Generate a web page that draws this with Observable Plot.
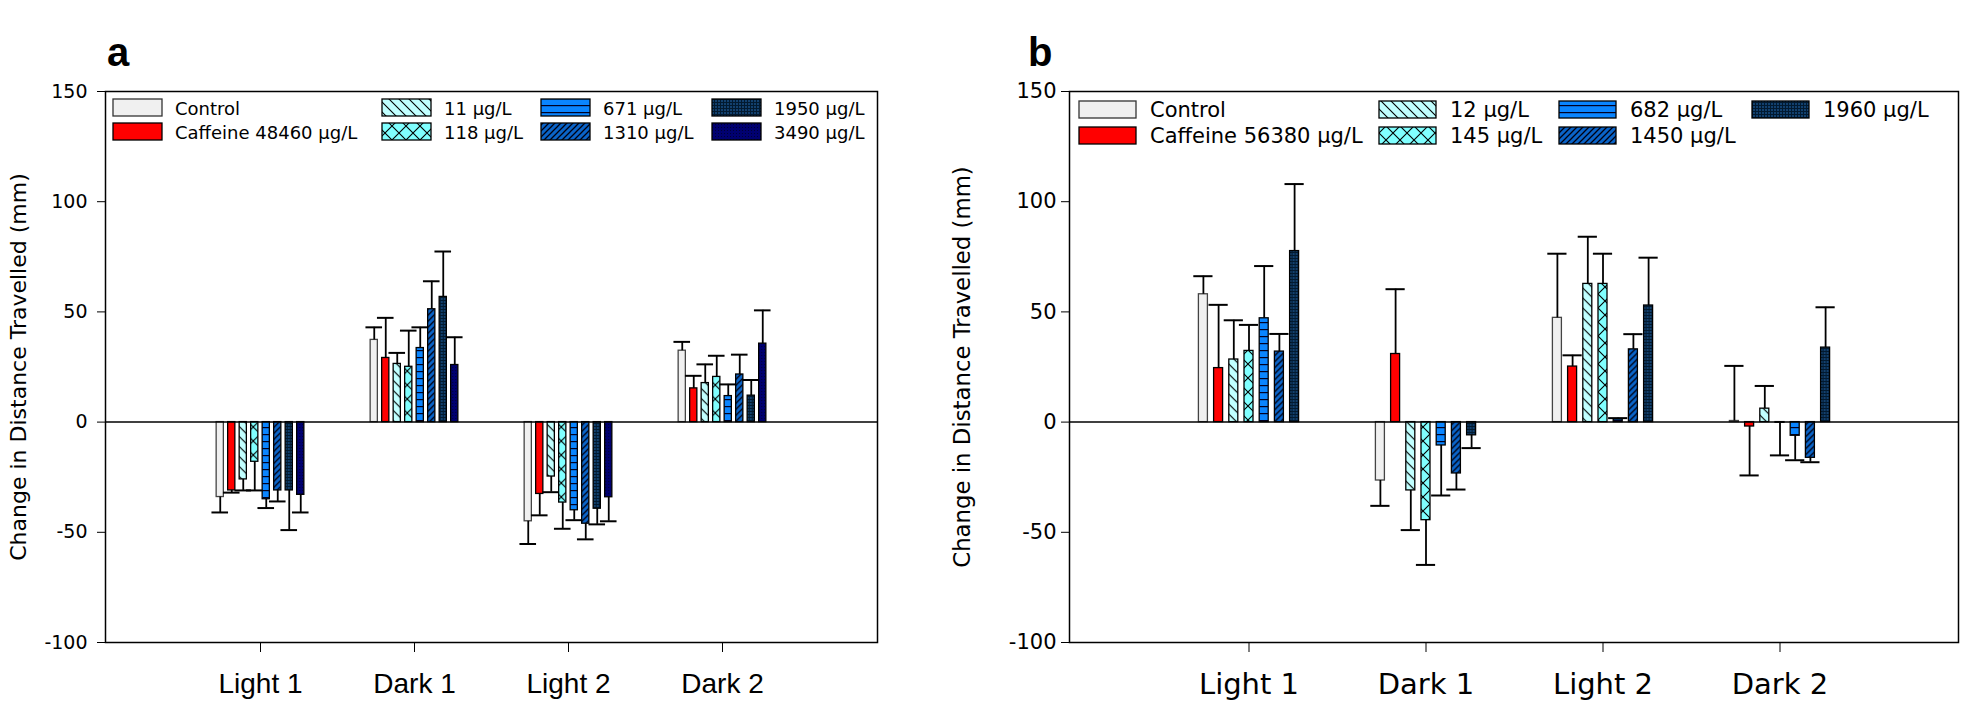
<!DOCTYPE html>
<html><head><meta charset="utf-8">
<script src="https://cdn.jsdelivr.net/npm/d3@7"></script>
<script src="https://cdn.jsdelivr.net/npm/@observablehq/plot@0.6"></script>
<style>
html,body{margin:0;padding:0;background:#fff;}
#wrap{position:relative;width:1961px;height:707px;overflow:hidden;background:#fff;}
#wrap > svg{position:absolute;top:0;}
.pa [aria-label^="x-axis"] text{font-family:"Liberation Sans",Arial,sans-serif;font-size:28px;fill:#000;}
.pb [aria-label^="x-axis"] text{font-family:"DejaVu Sans",sans-serif;font-size:29px;fill:#000;}
.pa [aria-label^="y-axis"] text{font-family:"DejaVu Sans",sans-serif;font-size:19px;fill:#000;}
.pb [aria-label^="y-axis"] text{font-family:"DejaVu Sans",sans-serif;font-size:21px;fill:#000;}
</style>
</head><body>
<svg width="0" height="0" style="position:absolute">
<defs>
<pattern id="p11" patternUnits="userSpaceOnUse" width="10" height="10">
<rect width="10" height="10" fill="#c0ffff"/>
<path d="M0,0L10,10M-2,8L2,12M8,-2L12,2" stroke="#000" stroke-width="1.1"/>
</pattern>
<pattern id="p118" patternUnits="userSpaceOnUse" width="14" height="14">
<rect width="14" height="14" fill="#80ffff"/>
<path d="M0,0L14,14M14,0L0,14" stroke="#000" stroke-width="1.1"/>
</pattern>
<pattern id="p671" patternUnits="userSpaceOnUse" width="7" height="7">
<rect width="7" height="7" fill="#0a85ff"/>
<path d="M0,0.6H7" stroke="#002" stroke-width="1.2"/>
</pattern>
<pattern id="p1310" patternUnits="userSpaceOnUse" width="6" height="6">
<rect width="6" height="6" fill="#0a64c8"/>
<path d="M0,6L6,0M-1,1L1,-1M5,7L7,5" stroke="#001" stroke-width="1.3"/>
</pattern>
<pattern id="p1950" patternUnits="userSpaceOnUse" width="3" height="3">
<rect width="3" height="3" fill="#12406e"/>
<path d="M0,0.5H3M0.5,0V3" stroke="#021a30" stroke-width="1"/>
</pattern>
<pattern id="p3490" patternUnits="userSpaceOnUse" width="3" height="3">
<rect width="3" height="3" fill="#000070"/>
<rect x="1" y="1" width="1" height="1" fill="#000035"/>
</pattern>
</defs>
</svg>
<div id="wrap"></div>
<script>
// ---------- data ----------
const categories = ["Light 1", "Dark 1", "Light 2", "Dark 2"];
const yTicks = [-100, -50, 0, 50, 100, 150];
const yLabel = "Change in Distance Travelled (mm)";

// panel a
const seriesA = ["Control", "Caffeine 48460 µg/L", "11 µg/L", "118 µg/L", "671 µg/L", "1310 µg/L", "1950 µg/L", "3490 µg/L"];
const aLight1    = [-34, -31, -26, -18, -35, -31, -31, -33];
const aLight1Err = [7, 1, 5, 13, 4, 5, 18, 8];
const aDark1     = [37.3, 29.1, 26.4, 25.1, 33.6, 51.2, 56.8, 25.9];
const aDark1Err  = [5.7, 18.2, 5.0, 16.4, 9.4, 12.7, 20.6, 12.6];
const aLight2    = [-45.0, -32.6, -24.7, -36.5, -40.0, -46.1, -39.3, -34.1];
const aLight2Err = [10.3, 9.7, 7.1, 11.9, 4.5, 7.1, 7.1, 10.9];
const aDark2     = [32.4, 15.3, 17.7, 20.5, 11.8, 21.6, 12.0, 35.6];
const aDark2Err  = [4.0, 5.7, 8.5, 9.6, 5.3, 9.0, 7.1, 15.1];

// panel b
const seriesB = ["Control", "Caffeine 56380 µg/L", "12 µg/L", "145 µg/L", "682 µg/L", "1450 µg/L", "1960 µg/L"];
const bLight1    = [58.0, 24.5, 28.4, 32.3, 47.1, 32.0, 77.6];
const bLight1Err = [8.2, 28.7, 17.8, 11.8, 23.7, 8.0, 30.4];
const bDark1     = [-26.5, 30.9, -31.0, -44.5, -10.6, -23.3, -6.0];
const bDark1Err  = [11.5, 29.4, 18.0, 20.3, 22.7, 7.3, 5.8];
const bLight2    = [47.3, 25.2, 62.7, 62.7, 1.2, 33.0, 52.9];
const bLight2Err = [29.1, 5.1, 21.4, 13.7, 0.6, 6.9, 21.7];
const bDark2     = [0.5, -2.0, 6.1, -0.3, -6.2, -16.2, 33.8];
const bDark2Err  = [25.0, 22.2, 10.3, 14.8, 11.1, 2.0, 18.3];

// ---------- styles ----------
const fillsA = ["#f0f0f0", "#ff0000", "url(#p11)", "url(#p118)", "url(#p671)", "url(#p1310)", "url(#p1950)", "url(#p3490)"];
const fillsB = ["#f0f0f0", "#ff0000", "url(#p11)", "url(#p118)", "url(#p671)", "url(#p1310)", "url(#p1950)"];

function makePanel(cfg) {
  const {series, means, errs, fills, width, height, ml, mr, mt, mb, step, barW, capW, cls, yTickSize, yTickPad, lblFs, lblDx, lblDy} = cfg;
  const rows = [];
  categories.forEach((c, ci) => series.forEach((s, si) => rows.push({cat: c, si, mean: means[ci][si], err: errs[ci][si]})));
  const bw = (width - ml - mr) / 5;
  const n = series.length;
  const end = r => r.mean + (r.mean < 0 ? -r.err : r.err);
  const marks = [];
  series.forEach((s, si) => {
    const d = rows.filter(r => r.si === si);
    const dx = (si - (n - 1) / 2) * step;
    marks.push(Plot.barY(d, {x: "cat", y: "mean", fill: fills[si], stroke: si === 0 ? "#444" : "#000", strokeWidth: 1.3,
      dx, insetLeft: (bw - barW) / 2, insetRight: (bw - barW) / 2}));
  });
  series.forEach((s, si) => {
    const d = rows.filter(r => r.si === si);
    const dx = (si - (n - 1) / 2) * step;
    marks.push(Plot.ruleX(d, {x: "cat", y1: "mean", y2: end, dx, stroke: "#000", strokeWidth: 1.8}));
    marks.push(Plot.tickY(d, {x: "cat", y: end, dx, insetLeft: (bw - capW) / 2, insetRight: (bw - capW) / 2, stroke: "#000", strokeWidth: 2}));
  });
  marks.push(Plot.ruleY([0], {stroke: "#000", strokeWidth: 1.5}));
  marks.push(Plot.frame({stroke: "#000", strokeWidth: 1.5}));
  marks.push(Plot.text([yLabel], {text: d => d, frameAnchor: "left", textAnchor: "middle", lineAnchor: "middle", rotate: -90,
    dx: lblDx, dy: lblDy, fontSize: lblFs, fontFamily: "DejaVu Sans", fill: "#000"}));
  return Plot.plot({
    width, height, marginLeft: ml, marginRight: mr, marginTop: mt, marginBottom: mb,
    className: cls,
    style: {background: "transparent", color: "#000", fontFamily: "DejaVu Sans", overflow: "visible"},
    x: {type: "band", domain: categories, paddingInner: 0, paddingOuter: 0.5, label: null, tickSize: 10, tickPadding: 21},
    y: {domain: [-100, 150], ticks: yTicks, tickFormat: d => String(d), label: null, tickSize: yTickSize, tickPadding: yTickPad},
    marks
  });
}

const wrap = document.getElementById("wrap");
const svgA = makePanel({series: seriesA, means: [aLight1, aDark1, aLight2, aDark2], errs: [aLight1Err, aDark1Err, aLight2Err, aDark2Err],
  fills: fillsA, width: 900, height: 707, ml: 105, mr: 23, mt: 91, mb: 65, step: 11.5, barW: 7.6, capW: 17, cls: "pa",
  yTickSize: 8, yTickPad: 10, lblFs: 22, lblDx: -87, lblDy: 0});
svgA.style.left = "0px";
wrap.appendChild(svgA);
const svgB = makePanel({series: seriesB, means: [bLight1, bDark1, bLight2, bDark2], errs: [bLight1Err, bDark1Err, bLight2Err, bDark2Err],
  fills: fillsB, width: 1021, height: 707, ml: 129, mr: 3, mt: 91, mb: 65, step: 15.2, barW: 9.8, capW: 20, cls: "pb",
  yTickSize: 8, yTickPad: 5, lblFs: 22.8, lblDx: -107, lblDy: 0});
svgB.style.left = "940px";
wrap.appendChild(svgB);

// ---------- titles & legends (overlay) ----------
const ov = d3.select(wrap).append("svg").attr("width", 1961).attr("height", 707)
  .style("left", "0px").style("pointer-events", "none");
ov.append("text").attr("x", 107).attr("y", 66).attr("font-family", "Liberation Sans, Arial, sans-serif")
  .attr("font-weight", "bold").attr("font-size", 40).text("a");
ov.append("text").attr("x", 1028).attr("y", 66).attr("font-family", "Liberation Sans, Arial, sans-serif")
  .attr("font-weight", "bold").attr("font-size", 40).text("b");

function legend(series, fills, cols, rowsY, sw, sh, textDx, fs) {
  series.forEach((s, i) => {
    const x = cols[Math.floor(i / 2)], y = rowsY[i % 2];
    ov.append("rect").attr("x", x).attr("y", y).attr("width", sw).attr("height", sh)
      .attr("fill", fills[i]).attr("stroke", i === 0 ? "#333" : "#000").attr("stroke-width", 1.3);
    ov.append("text").attr("x", x + textDx).attr("y", y + sh - 1).attr("font-family", "DejaVu Sans, sans-serif")
      .attr("font-size", fs).attr("fill", "#000").text(s);
  });
}
legend(seriesA, fillsA, [113, 382, 541, 712], [99, 123], 49, 17, 62, 18);
legend(seriesB, fillsB, [1079, 1379, 1559, 1752], [101, 127], 57, 17, 71, 21);
</script>
</body></html>
